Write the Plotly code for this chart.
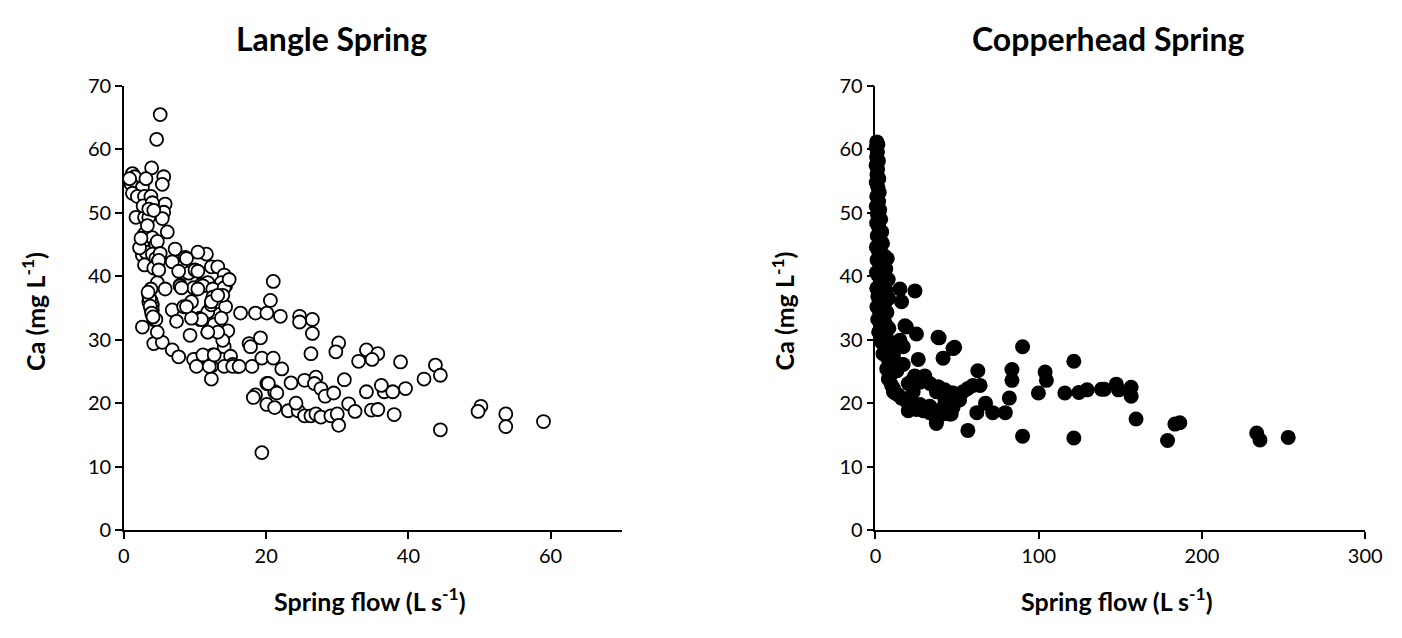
import plotly.graph_objects as go

# Langle Spring: spring flow (L/s) and calcium (mg/L)
langle_flow = [
    5.1, 4.6, 3.9, 1.2, 1.5, 1.0, 0.8, 2.6, 3.1, 5.6, 5.4, 1.2, 1.9, 2.9, 3.8,
    5.8, 5.6, 5.4, 1.7, 2.9, 3.5, 2.7, 4.0, 3.5, 4.2, 6.1, 2.9, 2.6, 4.0, 4.5,
    4.7, 2.6, 3.1, 4.0, 4.5, 4.8, 5.1, 2.9, 4.2, 4.9, 4.7, 3.8, 7.2, 8.6, 6.8,
    9.1, 10.0, 11.6, 10.4, 12.3, 13.2, 14.1, 14.3, 10.9, 11.8, 7.9, 8.8, 4.9,
    7.7, 10.4, 13.7, 3.5, 3.5, 3.8, 4.0, 4.2, 2.6, 4.2, 5.4, 5.8, 7.9, 9.8,
    11.1, 12.5, 14.1, 14.8, 6.8, 8.4, 9.5, 10.7, 11.8, 12.3, 13.2, 14.3, 13.9,
    12.5, 7.4, 9.3, 10.7, 11.8, 12.7, 13.7, 14.6, 6.8, 7.7, 10.2, 11.4, 12.5,
    14.1, 15.0, 15.3, 16.0, 14.1, 12.3, 12.3, 16.4, 18.5, 20.1, 22.0, 21.0,
    20.6, 17.6, 17.8, 19.2, 18.0, 19.4, 21.0, 22.2, 20.1, 21.2, 18.5, 9.8,
    10.2, 11.1, 12.0, 12.7, 15.3, 16.2, 13.9, 13.2, 11.8, 10.9, 9.5, 8.8,
    10.4, 12.3, 13.2, 8.1, 4.0, 4.0, 4.5, 4.7, 3.8, 3.6, 3.7, 3.9, 4.1, 3.4,
    2.2, 2.4, 3.3, 24.7, 26.5, 24.7, 26.5, 26.3, 30.2, 29.8, 34.1, 35.7, 33.0,
    34.9, 38.9, 43.8, 44.5, 42.2, 20.3, 21.5, 20.1, 21.2, 23.5, 25.4, 27.0,
    26.8, 27.7, 28.3, 29.5, 31.0, 23.1, 24.5, 25.4, 26.3, 27.0, 27.7, 29.1,
    30.0, 30.2, 31.6, 32.5, 34.1, 36.6, 37.8, 36.2, 39.6, 34.8, 35.7, 38.0,
    44.5, 19.4, 50.2, 49.8, 53.7, 53.7, 59.0, 18.2, 24.2,
]
langle_ca = [
    65.5, 61.6, 57.1, 56.2, 55.7, 54.6, 55.4, 54.0, 55.4, 55.7, 54.5, 53.1,
    52.6, 52.6, 52.6, 51.4, 50.1, 49.1, 49.3, 49.3, 49.3, 51.1, 51.6, 50.6,
    50.4, 47.0, 46.7, 45.3, 46.1, 45.0, 45.5, 43.3, 43.8, 43.5, 42.8, 42.3,
    43.6, 41.8, 41.3, 42.5, 39.0, 38.0, 44.3, 43.0, 42.3, 40.5, 41.0, 43.5,
    43.8, 41.5, 41.5, 40.2, 38.5, 38.7, 39.0, 38.6, 42.8, 41.0, 40.8, 40.8,
    39.0, 37.0, 36.0, 34.9, 33.9, 33.2, 32.0, 29.4, 29.6, 38.0, 38.5, 38.2,
    38.5, 38.0, 38.2, 39.5, 34.7, 35.2, 36.0, 33.4, 34.4, 35.5, 36.0, 35.2,
    37.0, 36.7, 32.9, 30.7, 33.2, 31.2, 32.4, 33.4, 31.4, 28.4, 27.3, 26.9,
    27.4, 27.6, 28.9, 27.4, 26.1, 25.8, 25.8, 25.8, 23.8, 34.2, 34.2, 34.2,
    33.7, 39.2, 36.2, 29.4, 28.9, 30.3, 25.8, 27.1, 27.1, 25.4, 23.1, 21.8,
    21.3, 26.9, 25.8, 27.6, 25.8, 27.6, 25.8, 25.8, 29.9, 31.2, 31.2, 33.2,
    33.4, 35.2, 38.0, 36.0, 37.0, 38.2, 35.5, 34.7, 33.2, 31.2, 36.2, 36.5,
    35.3, 34.2, 33.6, 37.5, 44.5, 46.0, 48.0, 33.7, 33.2, 32.8, 31.0, 27.8,
    29.5, 28.1, 28.4, 27.8, 26.6, 26.9, 26.5, 26.0, 24.4, 23.8, 23.1, 21.6,
    19.8, 19.3, 23.2, 23.6, 24.1, 23.1, 22.3, 21.1, 21.6, 23.7, 18.8, 18.8,
    18.0, 18.0, 18.3, 17.8, 18.0, 18.3, 16.5, 19.9, 18.7, 21.8, 21.8, 21.8,
    22.8, 22.3, 18.9, 19.0, 18.2, 15.8, 12.2, 19.5, 18.7, 18.3, 16.3, 17.1,
    20.9, 20.0,
]

# Copperhead Spring: spring flow (L/s) and calcium (mg/L)
copper_flow = [
    0.8, 1.5, 0.5, 1.2, 0.7, 1.8, 0.4, 1.3, 0.9, 2.0, 0.5, 1.5, 2.3, 0.8, 1.9,
    0.5, 2.6, 1.2, 3.2, 0.7, 2.0, 3.8, 1.1, 2.8, 4.3, 0.6, 1.9, 3.4, 5.5, 7.2,
    1.0, 2.6, 4.4, 6.3, 0.6, 1.8, 3.5, 7.8, 5.2, 2.4, 0.8, 6.5, 4.0, 1.5, 3.0,
    8.0, 5.5, 0.9, 2.2, 7.0, 4.3, 1.4, 6.0, 3.2, 8.2, 2.0, 5.0, 7.5, 3.8, 6.3,
    4.6, 8.5, 9.5, 11.0, 8.9, 9.9, 12.0, 6.9, 7.9, 11.0, 14.0, 7.9, 13.0, 16.0,
    15.0, 17.0, 18.1, 25.1, 16.0, 15.0, 24.2, 38.3, 47.5, 41.4, 26.2, 19.0,
    16.0, 21.1, 25.1, 29.2, 33.2, 37.3, 41.4, 45.4, 47.5, 51.5, 19.0, 20.1,
    37.3, 33.3, 41.4, 46.4, 23.1, 27.2, 21.1, 13.0, 17.0, 20.1, 23.1, 24.1,
    27.2, 28.2, 30.2, 33.3, 38.3, 42.4, 46.4, 50.5, 53.6, 56.6, 59.7, 62.7,
    64.1, 37.3, 42.4, 47.5, 56.6, 62.1, 67.4, 71.8, 79.5, 82.0, 83.6, 83.6,
    90.1, 90.1, 99.8, 103.9, 104.7, 116.0, 121.5, 121.5, 124.6, 129.6, 138.4,
    140.2, 147.5, 148.9, 156.6, 156.6, 159.6, 178.9, 183.4, 186.4, 233.5,
    235.5, 252.8, 39.0, 48.5, 11.0,
]
copper_ca = [
    61.2, 60.8, 60.3, 59.6, 58.8, 58.2, 57.5, 56.9, 56.0, 55.4, 54.8, 54.0,
    53.2, 52.6, 51.8, 51.0, 50.5, 49.8, 49.0, 48.4, 47.7, 47.0, 46.4, 45.8,
    45.2, 44.6, 44.0, 43.5, 43.2, 42.8, 42.6, 42.0, 41.6, 41.2, 40.6, 40.1,
    39.7, 39.5, 39.0, 38.5, 38.1, 37.8, 37.3, 36.8, 36.1, 36.5, 35.6, 35.2,
    34.6, 34.3, 33.8, 33.2, 32.6, 32.0, 31.8, 31.2, 30.5, 30.0, 29.6, 28.7,
    27.8, 28.4, 29.2, 27.5, 24.3, 22.8, 21.6, 25.4, 23.8, 22.3, 21.3, 26.9,
    25.1, 26.1, 29.9, 28.9, 32.2, 30.9, 36.0, 38.0, 37.7, 30.4, 28.6, 27.1,
    26.9, 32.0, 20.8, 19.8, 19.0, 18.8, 18.5, 17.3, 18.3, 18.3, 19.3, 20.5,
    20.3, 18.8, 16.8, 19.5, 19.3, 18.3, 21.8, 19.8, 20.8, 25.1, 26.1, 23.1,
    23.8, 24.3, 23.3, 23.6, 24.3, 23.1, 22.6, 22.1, 21.6, 21.1, 21.8, 22.3,
    22.8, 25.1, 22.8, 21.8, 20.8, 21.6, 15.7, 18.5, 20.0, 18.5, 18.5, 20.8,
    25.3, 23.6, 28.9, 14.8, 21.6, 24.9, 23.6, 21.6, 26.6, 14.5, 21.7, 22.1,
    22.2, 22.2, 23.0, 22.1, 22.5, 21.1, 17.5, 14.1, 16.7, 16.9, 15.3, 14.2,
    14.6, 30.3, 28.8, 21.8,
]

FONT = "Lato"

fig = go.Figure()

fig.add_trace(go.Scatter(
    x=langle_flow, y=langle_ca, mode="markers", xaxis="x", yaxis="y",
    cliponaxis=False, showlegend=False,
    marker=dict(size=13, color="white", line=dict(color="black", width=1.8)),
))
fig.add_trace(go.Scatter(
    x=copper_flow, y=copper_ca, mode="markers", xaxis="x2", yaxis="y2",
    cliponaxis=False, showlegend=False,
    marker=dict(size=15, color="black", line=dict(width=0)),
))

axis_common = dict(
    showgrid=False, zeroline=False, showline=True, linecolor="black",
    linewidth=1.5, ticks="outside", ticklen=7, tickwidth=1.5,
    tickcolor="black", tickfont=dict(family=FONT, size=20, color="black"),
)

y_dom = [0.158, 0.881]
fig.update_layout(
    width=1402, height=638,
    margin=dict(l=0, r=0, t=0, b=0),
    paper_bgcolor="white", plot_bgcolor="white",
    xaxis=dict(domain=[0.0855, 0.4465], range=[0, 70], dtick=20, anchor="y", **axis_common),
    yaxis=dict(domain=y_dom, range=[0, 70], dtick=10, anchor="x", **axis_common),
    xaxis2=dict(domain=[0.6305, 0.9857], range=[0, 300], dtick=100, anchor="y2", **axis_common),
    yaxis2=dict(domain=y_dom, range=[0, 70], dtick=10, anchor="x2", **axis_common),
)

title_font = dict(family=FONT, size=32, color="black", weight="bold")
label_font = dict(family=FONT, size=25, color="black", weight="bold")

annotations = [
    dict(text="Langle Spring", x=331 / 1402, y=1 - 26 / 638, font=title_font),
    dict(text="Copperhead Spring", x=1120 / 1402, y=1 - 26 / 638, font=title_font),
    dict(text="Spring flow (L s<sup>-1</sup>)", x=370 / 1402, y=1 - 609 / 638, font=label_font),
    dict(text="Spring flow (L s<sup>-1</sup>)", x=1130 / 1402, y=1 - 609 / 638, font=label_font),
    dict(text="Ca (mg L<sup>-1</sup>)", x=28 / 1402, y=1 - 310 / 638, font=label_font, textangle=-90),
    dict(text="Ca (mg L<sup>-1</sup>)", x=790 / 1402, y=1 - 310 / 638, font=label_font, textangle=-90),
]
for a in annotations:
    a.update(xref="paper", yref="paper", showarrow=False, xanchor="center", yanchor="middle")
fig.update_layout(annotations=annotations)

fig.write_html("out.html")
